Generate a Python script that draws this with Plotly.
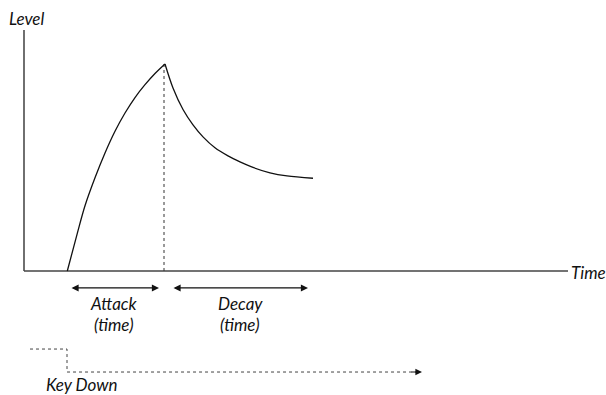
import plotly.graph_objects as go

# Envelope (time units, level 0-100)
attack_time = [4.33, 5.33, 6.1, 7.1, 8.1, 9.1, 10.1, 11.1, 12.1, 13.1, 14.1]
attack_level = [0, 18.2, 31.5, 45.0, 57.0, 67.5, 76.3, 83.8, 90.0, 95.4, 100]
decay_time = [14.1, 14.9, 15.9, 16.9, 17.9, 19.1, 20.4, 21.6, 22.9, 24.6, 26.3, 28.9]
decay_level = [100, 88.4, 78.0, 70.6, 64.8, 59.5, 55.6, 52.7, 50.0, 47.4, 45.9, 44.8]

# Key signal (drawn below the time axis)
key_time = [0.6, 4.3, 4.3, 39.4]
key_level = [-37.7, -37.7, -48.8, -48.8]

peak_time = 14.0
peak_level = 100

FONT = "Lato"
INK = "#111111"

fig = go.Figure()

# axes
fig.add_trace(go.Scatter(x=[0, 0], y=[116.4, 0], mode="lines",
                         line=dict(color="#222222", width=1.3), hoverinfo="skip"))
fig.add_trace(go.Scatter(x=[0, 54.4], y=[0, 0], mode="lines",
                         line=dict(color="#444444", width=1.3), hoverinfo="skip"))

# dotted peak marker
fig.add_trace(go.Scatter(x=[peak_time, peak_time], y=[0, peak_level], mode="lines",
                         line=dict(color="#333333", width=1, dash="dot"), hoverinfo="skip"))

# envelope
fig.add_trace(go.Scatter(x=attack_time, y=attack_level, mode="lines", line_shape="spline",
                         line=dict(color=INK, width=1.3, smoothing=0.9), hoverinfo="skip"))
fig.add_trace(go.Scatter(x=decay_time, y=decay_level, mode="lines", line_shape="spline",
                         line=dict(color=INK, width=1.3, smoothing=0.9), hoverinfo="skip"))

# key down signal
fig.add_trace(go.Scatter(x=key_time, y=key_level, mode="lines",
                         line=dict(color="#444444", width=1, dash="dot"), hoverinfo="skip"))

annotations = []
# key arrowhead
annotations.append(dict(x=39.8, y=-48.8, ax=38.6, ay=-48.8, xref="x", yref="y",
                        axref="x", ayref="y", text="", showarrow=True,
                        arrowhead=2, arrowsize=1.1, arrowwidth=1.2, arrowcolor=INK))
# double arrows
for t0, t1 in [(4.6, 13.5), (14.8, 28.4)]:
    annotations.append(dict(x=t1, y=-8.2, ax=t0, ay=-8.2, xref="x", yref="y",
                            axref="x", ayref="y", text="", showarrow=True,
                            arrowside="end+start", arrowhead=2, startarrowhead=2,
                            arrowsize=1.1, startarrowsize=1.1,
                            arrowwidth=1.3, arrowcolor=INK))

def label(txt, x, y, xanchor="center", size=17):
    annotations.append(dict(x=x, y=y, xref="x", yref="y", text="<i>" + txt + "</i>",
                            showarrow=False, xanchor=xanchor, yanchor="middle",
                            borderpad=0,
                            font=dict(family=FONT, size=size, color=INK)))

label("Level", -1.6, 122.2, "left")
label("Time", 54.6, -0.5, "left")
label("Attack", 9.0, -15.5)
label("(time)", 9.0, -26.0)
label("Decay", 21.6, -15.5)
label("(time)", 21.6, -26.0)
label("Key Down", 2.1, -55.0, "left")

fig.update_layout(
    width=606, height=395,
    margin=dict(l=0, r=0, t=0, b=0),
    paper_bgcolor="white", plot_bgcolor="white",
    showlegend=False,
    xaxis=dict(range=[-2.4, 58.2], visible=False, fixedrange=True),
    yaxis=dict(range=[-59.9, 130.9], visible=False, fixedrange=True),
    annotations=annotations,
)

fig.write_html("out.html", config={"staticPlot": True},
               post_script="document.body.style.margin='0';document.body.style.overflow='hidden';")
